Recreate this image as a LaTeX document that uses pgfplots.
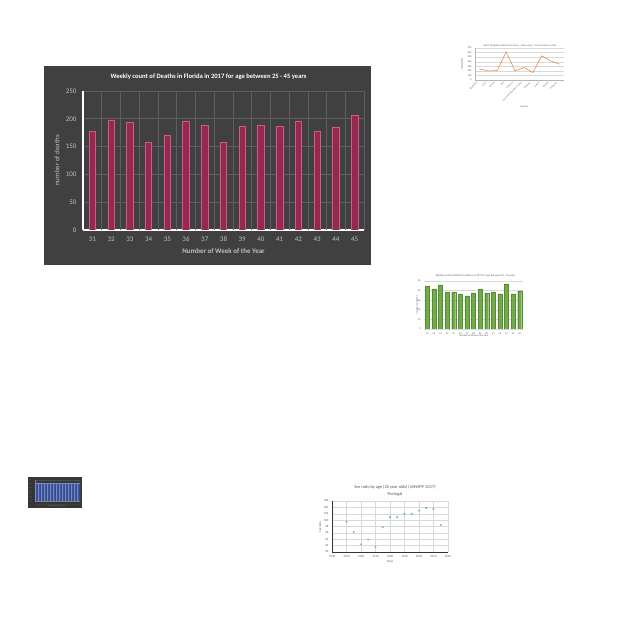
\documentclass[border=0pt]{standalone}
\usepackage{fontspec}
\setmainfont{Carlito}
\usepackage{pgfplots}
\pgfplotsset{compat=1.18}
\definecolor{darkbg}{HTML}{404040}
\definecolor{gridc}{HTML}{5E5E5E}
\definecolor{ticklbl}{HTML}{BFBFBF}
\definecolor{barfill}{HTML}{942850}
\definecolor{baredge}{HTML}{CC5C85}
\definecolor{exgreen}{HTML}{70AD47}
\definecolor{exorange}{HTML}{ED7D31}
\definecolor{lightgrid}{HTML}{D9D9D9}
\definecolor{txtgray}{HTML}{595959}
\definecolor{darkbg2}{HTML}{363636}
\definecolor{exblue}{HTML}{3A56A8}
\definecolor{scatc}{HTML}{4AA3B8}
\begin{document}
\begin{tikzpicture}[x=1pt,y=1pt]
\fill[white] (0,0) rectangle (640,640);
% ---------------- main chart ----------------
\fill[darkbg] (44,375) rectangle (371,574);
\begin{axis}[at={(83pt,410pt)},anchor=south west,scale only axis,
  width=281pt,height=139pt,
  xmin=30.5,xmax=45.5,ymin=0,ymax=250,
  xtick={31,...,45}, ytick={0,50,...,250},
  extra x ticks={31.5,32.5,...,45.5},
  extra x tick labels={},
  extra x tick style={xmajorgrids=true, major grid style={draw=gridc,line width=0.6pt}},
  ymajorgrids,
  major grid style={draw=gridc,line width=0.6pt},
  axis x line*=bottom, axis y line*=left,
  axis line style={draw=white,line width=1.2pt},
  major tick length=0pt, minor tick length=0pt,
  tick label style={font=\fontsize{7}{8}\selectfont, text=ticklbl},
  xticklabel style={yshift=-3pt},
  yticklabel style={xshift=-3pt},
  /pgf/number format/assume math mode=true,
  ybar, bar width=6.5pt,
]
\addplot[fill=barfill, draw=baredge, line width=0.7pt] coordinates {
 (31,177) (32,197) (33,193) (34,157) (35,171) (36,196) (37,188) (38,157)
 (39,186) (40,188) (41,186) (42,196) (43,178) (44,185) (45,207)};
\end{axis}
\node[text=white,font=\fontsize{6.6}{8}\selectfont\bfseries] at (208.5,563) {Weekly count of Deaths in Florida in 2017 for age between 25 - 45 years};
\node[text=ticklbl,font=\fontsize{7}{8}\selectfont\bfseries] at (223.5,389) {Number of Week of the Year};
\node[text=ticklbl,font=\fontsize{7}{8}\selectfont,rotate=90] at (57,479.5) {number of deaths};
% ---------------- line chart (top right) ----------------
\begin{axis}[at={(475pt,560pt)},anchor=south west,scale only axis,
  width=89pt,height=32pt,
  xmin=0.5,xmax=10.5,ymin=0,ymax=700,
  xtick={1,...,10}, ytick={0,100,...,700},
  xticklabels={Bangladesh,China,Ethiopia,India,Indonesia,Democratic Republic of Congo,Myanmar,Nigeria,Pakistan,Philippines},
  xticklabel style={rotate=45,anchor=east,font=\fontsize{2.1}{2.4}\selectfont,text=txtgray},
  yticklabel style={font=\fontsize{2.5}{3}\selectfont,text=txtgray},
  ymajorgrids, major grid style={draw=lightgrid,line width=0.2pt},
  axis x line*=bottom, axis y line*=left,
  axis line style={draw=lightgrid!60!gray,line width=0.3pt},
  major tick length=0pt,
  /pgf/number format/assume math mode=true,
]
\addplot[exorange, line width=0.5pt, mark=none] coordinates {
 (1,243) (2,199) (3,206) (4,612) (5,199) (6,273) (7,162) (8,530) (9,420) (10,346)};
\end{axis}
\node[text=txtgray,font=\fontsize{2.4}{3}\selectfont] at (520,594) {DALYs (Disability-Adjusted Life Years) - Tuberculosis - Total, Number in 2016};
\node[text=txtgray,font=\fontsize{2.5}{3}\selectfont] at (524,533) {Country};
\node[text=txtgray,font=\fontsize{2.5}{3}\selectfont,rotate=90] at (462,576) {Total DALYs};
% ---------------- green bar chart ----------------
\begin{axis}[at={(424pt,311pt)},anchor=south west,scale only axis,
  width=99pt,height=48pt,
  xmin=30.5,xmax=45.5,ymin=0,ymax=50,
  xtick={31,...,45}, ytick={0,10,...,50},
  ymajorgrids, major grid style={draw=lightgrid,line width=0.3pt},
  axis x line*=bottom, axis y line*=left,
  axis line style={draw=lightgrid,line width=0.3pt},
  y axis line style={draw=none},
  major tick length=0pt,
  tick label style={font=\fontsize{2.5}{3}\selectfont, text=txtgray},
  /pgf/number format/assume math mode=true,
  ybar, bar width=4pt,
]
\addplot[fill=exgreen, draw=exgreen!80!black, line width=0.2pt] coordinates {
 (31,44.8) (32,41.7) (33,45.9) (34,38.6) (35,38.6) (36,36.6) (37,34.5) (38,37.6)
 (39,41.7) (40,37.6) (41,38.6) (42,36.6) (43,46.9) (44,36.6) (45,39.7)};
\end{axis}
\node[text=txtgray,font=\fontsize{2.7}{3}\selectfont] at (475.5,364) {Weekly count of Deaths in Indiana in 2017 for age between 25 - 45 years};
\node[text=txtgray,font=\fontsize{2.5}{3}\selectfont] at (474,304) {Number of Week of the Year};
\node[text=txtgray,font=\fontsize{2.5}{3}\selectfont,rotate=90] at (417,335) {number of deaths};
% ---------------- tiny dark blue chart ----------------
\fill[darkbg2] (28,132) rectangle (82,163);
\begin{axis}[at={(35pt,139pt)},anchor=south west,scale only axis,
  width=45pt,height=21pt,
  xmin=30.5,xmax=45.5,ymin=0,ymax=250,
  xtick={31,...,45}, ytick={0,50,...,250},
  ymajorgrids, major grid style={draw=gray!60!black,line width=0.2pt},
  axis x line*=bottom, axis y line*=left,
  axis line style={draw=gray,line width=0.3pt},
  major tick length=0pt,
  tick label style={font=\fontsize{1.5}{2}\selectfont, text=gray},
  /pgf/number format/assume math mode=true,
  ybar, bar width=2.2pt,
]
\addplot[fill=exblue, draw=exblue!70!white, line width=0.15pt] coordinates {
 (31,215) (32,218) (33,216) (34,212) (35,214) (36,218) (37,216) (38,212)
 (39,215) (40,216) (41,215) (42,218) (43,214) (44,215) (45,219)};
\end{axis}
\node[text=gray,font=\fontsize{1.6}{2}\selectfont] at (57,134.5) {Number of Week of the Year};
% ---------------- scatter chart ----------------
\begin{axis}[at={(332pt,88pt)},anchor=south west,scale only axis,
  width=116pt,height=51pt,
  xmin=1940,xmax=2020,ymin=90,ymax=106,
  xtick={1940,1950,...,2020}, ytick={90,92,...,106},
  xmajorgrids, ymajorgrids, major grid style={draw=lightgrid,line width=0.3pt},
  axis x line*=bottom, axis y line*=left,
  axis line style={draw=black!80,line width=0.7pt},
  major tick length=0pt,
  tick label style={font=\fontsize{3}{3.5}\selectfont, text=txtgray},
  /pgf/number format/assume math mode=true,
  /pgf/number format/1000 sep={},
]
\addplot[only marks, mark=x, mark size=1pt, draw=scatc, line width=0.4pt] coordinates {
 (1950,99.5) (1955,96.3) (1960,92.4) (1965,93.9) (1970,91.6) (1975,97.8)
 (1980,100.9) (1985,100.9) (1990,102.0) (1995,102.0) (2000,103.0)
 (2005,103.8) (2010,103.5) (2015,98.5)};
\end{axis}
\node[text=txtgray,font=\fontsize{4.4}{5}\selectfont] at (395,153) {Sex ratio by age (20 year olds) (UNWPP, 2017)};
\node[text=txtgray,font=\fontsize{4.4}{5}\selectfont] at (395,146) {Portugal};
\node[text=txtgray,font=\fontsize{3}{3.5}\selectfont] at (390,78) {Years};
\node[text=txtgray,font=\fontsize{3}{3.5}\selectfont,rotate=90] at (320,113) {Sex ratio};
\end{tikzpicture}
\end{document}
